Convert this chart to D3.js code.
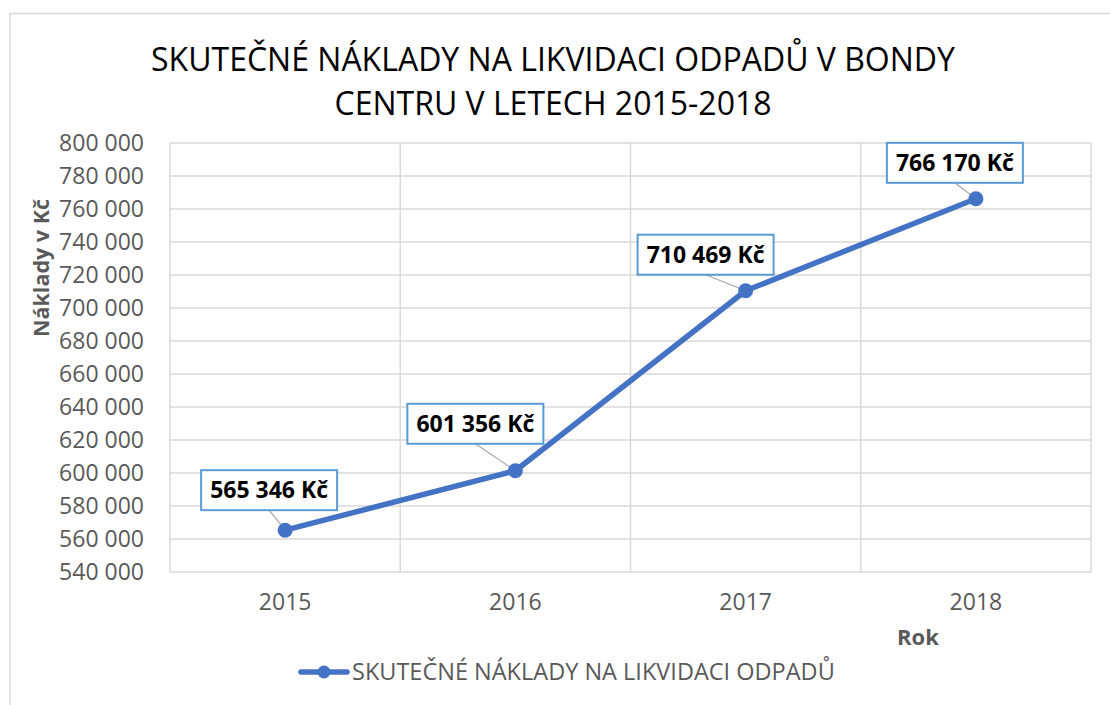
<!DOCTYPE html>
<meta charset="utf-8">
<style>
body { margin: 0; background: #fff; }
svg { display: block; font-family: 'Open Sans', sans-serif; }
.grid line { stroke: #d9d9d9; stroke-width: 1.5px; }
.tick text { fill: #595959; }
</style>
<svg width="1110" height="705"></svg>
<script src="https://d3js.org/d3.v7.min.js"></script>
<script>
// data
var years = ["2015", "2016", "2017", "2018"];
var costs = [565346, 601356, 710469, 766170];
var yTicks = d3.range(540000, 800001, 20000);
var titleLines = ["SKUTEČNÉ NÁKLADY NA LIKVIDACI ODPADŮ V BONDY", "CENTRU V LETECH 2015-2018"];
var seriesName = "SKUTEČNÉ NÁKLADY NA LIKVIDACI ODPADŮ";

// label box offsets (moved by hand in the original)
var labelDx = [-16, -40, -40, -21];
var labelDy = [-20, -27, -16, -16];

var svg = d3.select("svg");
var margin = {left: 170, right: 19, top: 143, bottom: 133};
var width = 1110, height = 705;

// outer frame (only left and top visible)
svg.append("path")
    .attr("d", "M10," + height + "V13.5H" + width)
    .attr("fill", "none")
    .attr("stroke", "#d9d9d9")
    .attr("stroke-width", 1.5);

var x = d3.scaleBand().domain(years)
    .range([margin.left, width - margin.right]);
var y = d3.scaleLinear().domain([540000, 800000])
    .range([height - margin.bottom, margin.top]);

var fmt = function(v) { return d3.format(",")(v).replace(/,/g, " "); };

// horizontal grid
svg.append("g").attr("class", "grid")
  .selectAll("line").data(yTicks).enter().append("line")
    .attr("x1", margin.left).attr("x2", width - margin.right)
    .attr("y1", function(d) { return y(d); })
    .attr("y2", function(d) { return y(d); });

// vertical grid at category boundaries
var bounds = years.map(function(d) { return x(d); }).concat([x.range()[1]]);
svg.append("g").attr("class", "grid")
  .selectAll("line").data(bounds).enter().append("line")
    .attr("x1", function(d) { return d; }).attr("x2", function(d) { return d; })
    .attr("y1", y(800000)).attr("y2", y(540000));

// y axis
var yAxis = svg.append("g")
    .attr("transform", "translate(" + margin.left + ",0)")
    .call(d3.axisLeft(y).tickValues(yTicks).tickFormat(fmt).tickSize(0).tickPadding(26))
    .attr("font-family", "'Open Sans', sans-serif")
    .attr("font-size", 23);
yAxis.select(".domain").remove();

// x axis
var xAxis = svg.append("g")
    .attr("transform", "translate(0," + (height - margin.bottom) + ")")
    .call(d3.axisBottom(x).tickSize(0).tickPadding(22))
    .attr("font-family", "'Open Sans', sans-serif")
    .attr("font-size", 23);
xAxis.select(".domain").remove();

// title
svg.append("g").selectAll("text").data(titleLines).enter().append("text")
    .attr("x", 553)
    .attr("y", function(d, i) { return 71 + i * 44; })
    .attr("text-anchor", "middle")
    .style("font-size", "32px")
    .style("fill", "#000")
    .text(function(d) { return d; });

// axis titles
svg.append("text")
    .attr("transform", "translate(49,268) rotate(-90)")
    .attr("text-anchor", "middle")
    .style("font-size", "21.5px").style("font-weight", "bold").style("fill", "#595959")
    .text("Náklady v Kč");
svg.append("text")
    .attr("x", 918).attr("y", 645)
    .attr("text-anchor", "middle")
    .style("font-size", "22px").style("font-weight", "bold").style("fill", "#595959")
    .text("Rok");

// series
var pts = years.map(function(d, i) {
  return {x: x(d) + x.bandwidth() / 2, y: y(costs[i]), v: costs[i], i: i};
});

// leader lines
svg.append("g").selectAll("line").data(pts).enter().append("line")
    .attr("x1", function(d) { return d.x + labelDx[d.i]; })
    .attr("y1", function(d) { return d.y + labelDy[d.i]; })
    .attr("x2", function(d) { return d.x; })
    .attr("y2", function(d) { return d.y; })
    .attr("stroke", "#a6a6a6").attr("stroke-width", 1.2);

svg.append("path").datum(pts)
    .attr("fill", "none")
    .attr("stroke", "#4472c4")
    .attr("stroke-width", 5.5)
    .attr("stroke-linejoin", "round")
    .attr("d", d3.line().x(function(d) { return d.x; }).y(function(d) { return d.y; }));

svg.append("g").selectAll("circle").data(pts).enter().append("circle")
    .attr("cx", function(d) { return d.x; })
    .attr("cy", function(d) { return d.y; })
    .attr("r", 7.5)
    .attr("fill", "#4472c4");

// data labels
var lab = svg.append("g").selectAll("g").data(pts).enter().append("g")
    .attr("transform", function(d) {
      return "translate(" + (d.x + labelDx[d.i]) + "," + (d.y + labelDy[d.i]) + ")";
    });
lab.append("rect")
    .attr("x", -68).attr("y", -40).attr("width", 136).attr("height", 40)
    .attr("fill", "#fff").attr("stroke", "#5b9bd5").attr("stroke-width", 2);
lab.append("text")
    .attr("y", -12)
    .attr("text-anchor", "middle")
    .style("font-size", "23px").style("font-weight", "bold").style("fill", "#000")
    .text(function(d) { return fmt(d.v) + " Kč"; });

// legend
var leg = svg.append("g").attr("transform", "translate(0,672)");
leg.append("line").attr("x1", 301).attr("x2", 347)
    .attr("stroke", "#4472c4").attr("stroke-width", 5.5).attr("stroke-linecap", "round");
leg.append("circle").attr("cx", 324).attr("r", 6.5).attr("fill", "#4472c4");
leg.append("text").attr("x", 352).attr("y", 8)
    .style("font-size", "23.5px").style("fill", "#595959")
    .text(seriesName);
</script>
